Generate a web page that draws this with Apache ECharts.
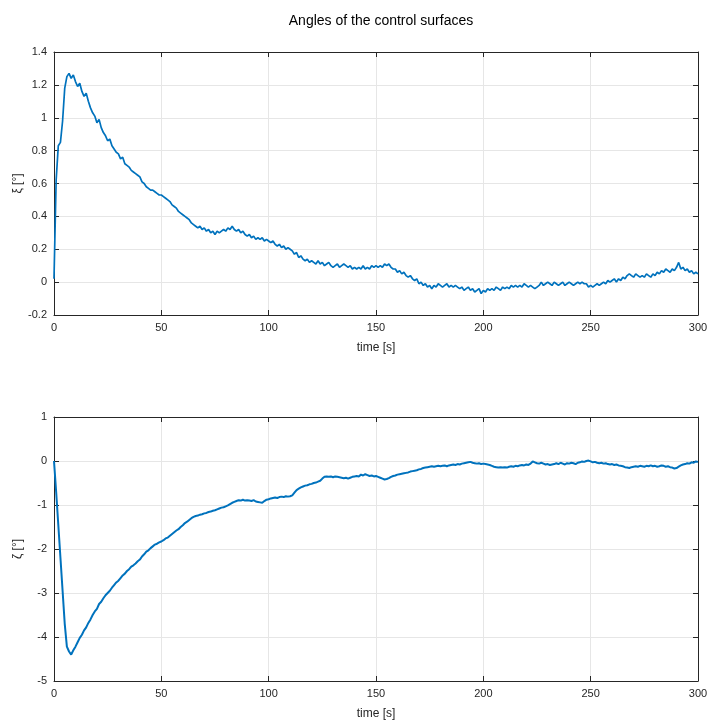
<!DOCTYPE html>
<html>
<head>
<meta charset="utf-8">
<script src="https://cdn.jsdelivr.net/npm/echarts@6/dist/echarts.min.js"></script>
<style>
html,body{margin:0;padding:0;background:#fff;}
#chart{width:708px;height:720px;}
</style>
</head>
<body>
<div id="chart"></div>
<script>
// ---- DATA ----
const chartTitle = "Angles of the control surfaces";
const xLabel = "time [s]";
const xiLabel = "ξ [°]";
const zetaLabel = "ζ [°]";
const sampleStep = 1; // seconds between samples

// aileron angle ξ [°], one sample per second, t = 0..300 s
const xiValues = [
0.02,0.62,0.83,0.85,0.98,1.18,1.25,1.27,1.24,1.26,
1.22,1.19,1.21,1.16,1.13,1.15,1.10,1.06,1.03,1.01,
0.97,0.99,0.94,0.91,0.89,0.86,0.87,0.83,0.81,0.79,
0.78,0.75,0.76,0.72,0.71,0.70,0.68,0.67,0.66,0.65,
0.64,0.61,0.60,0.58,0.57,0.56,0.56,0.55,0.54,0.53,
0.53,0.52,0.51,0.50,0.49,0.47,0.46,0.45,0.43,0.42,
0.41,0.40,0.39,0.38,0.36,0.35,0.34,0.33,0.34,0.32,
0.33,0.31,0.32,0.30,0.31,0.29,0.31,0.30,0.31,0.32,
0.31,0.33,0.32,0.34,0.32,0.31,0.32,0.30,0.31,0.29,
0.28,0.29,0.27,0.28,0.26,0.27,0.26,0.27,0.25,0.26,
0.25,0.24,0.25,0.23,0.22,0.23,0.21,0.22,0.20,0.21,
0.20,0.19,0.17,0.18,0.15,0.16,0.14,0.13,0.14,0.12,
0.13,0.12,0.11,0.13,0.11,0.12,0.10,0.11,0.12,0.10,
0.09,0.10,0.11,0.09,0.10,0.11,0.10,0.09,0.10,0.08,
0.09,0.08,0.09,0.08,0.10,0.08,0.09,0.08,0.10,0.09,
0.10,0.09,0.10,0.09,0.11,0.10,0.11,0.09,0.08,0.08,
0.06,0.07,0.05,0.06,0.04,0.03,0.04,0.02,0.01,0.02,
-0.01,0.00,-0.02,-0.01,-0.03,-0.02,-0.04,-0.02,-0.03,-0.01,
-0.02,-0.03,-0.02,-0.01,-0.03,-0.02,-0.03,-0.02,-0.03,-0.04,
-0.03,-0.05,-0.04,-0.03,-0.05,-0.04,-0.06,-0.05,-0.04,-0.07,
-0.05,-0.06,-0.04,-0.05,-0.04,-0.05,-0.03,-0.04,-0.05,-0.03,
-0.04,-0.03,-0.04,-0.02,-0.03,-0.02,-0.03,-0.02,-0.03,-0.01,
-0.02,-0.03,-0.02,-0.03,-0.04,-0.03,-0.02,0.00,-0.02,-0.01,
0.00,-0.01,-0.02,0.00,-0.01,-0.02,-0.01,0.00,-0.02,-0.01,
0.00,-0.01,-0.02,-0.01,0.00,-0.01,0.00,-0.01,-0.01,-0.03,
-0.02,-0.03,-0.02,-0.01,-0.02,-0.01,0.00,-0.01,0.01,0.00,
0.01,0.02,0.00,0.02,0.01,0.03,0.02,0.04,0.05,0.04,
0.03,0.05,0.04,0.03,0.04,0.03,0.05,0.04,0.03,0.05,
0.04,0.06,0.05,0.07,0.06,0.08,0.07,0.06,0.08,0.07,
0.09,0.12,0.08,0.09,0.07,0.08,0.06,0.07,0.05,0.06,
0.05
];

// rudder angle ζ [°], one sample per second, t = 0..300 s
const zetaValues = [
0.00,-0.70,-1.45,-2.20,-2.95,-3.70,-4.22,-4.33,-4.40,-4.30,
-4.22,-4.12,-4.02,-3.95,-3.85,-3.78,-3.68,-3.60,-3.50,-3.42,
-3.36,-3.25,-3.20,-3.12,-3.05,-3.00,-2.95,-2.88,-2.82,-2.76,
-2.72,-2.66,-2.60,-2.56,-2.50,-2.46,-2.40,-2.37,-2.33,-2.28,
-2.24,-2.17,-2.12,-2.06,-2.03,-1.98,-1.94,-1.90,-1.88,-1.85,
-1.83,-1.80,-1.76,-1.74,-1.70,-1.66,-1.62,-1.58,-1.55,-1.50,
-1.46,-1.41,-1.38,-1.34,-1.30,-1.27,-1.25,-1.24,-1.22,-1.21,
-1.19,-1.18,-1.16,-1.15,-1.13,-1.12,-1.10,-1.08,-1.06,-1.05,
-1.03,-1.01,-0.98,-0.95,-0.93,-0.91,-0.89,-0.90,-0.88,-0.90,
-0.89,-0.90,-0.91,-0.89,-0.92,-0.93,-0.94,-0.95,-0.91,-0.88,
-0.87,-0.85,-0.84,-0.83,-0.84,-0.82,-0.81,-0.82,-0.80,-0.81,
-0.80,-0.78,-0.72,-0.66,-0.63,-0.60,-0.58,-0.56,-0.55,-0.53,
-0.52,-0.50,-0.49,-0.47,-0.45,-0.40,-0.36,-0.35,-0.36,-0.35,
-0.37,-0.35,-0.36,-0.37,-0.38,-0.39,-0.38,-0.40,-0.38,-0.36,
-0.35,-0.34,-0.35,-0.31,-0.33,-0.30,-0.32,-0.34,-0.33,-0.35,
-0.34,-0.36,-0.38,-0.40,-0.42,-0.41,-0.39,-0.36,-0.34,-0.33,
-0.31,-0.30,-0.29,-0.28,-0.27,-0.26,-0.24,-0.23,-0.22,-0.21,
-0.19,-0.18,-0.16,-0.15,-0.14,-0.13,-0.12,-0.13,-0.12,-0.11,
-0.12,-0.11,-0.10,-0.12,-0.10,-0.09,-0.08,-0.09,-0.07,-0.08,
-0.06,-0.05,-0.04,-0.03,-0.02,-0.04,-0.05,-0.06,-0.05,-0.07,
-0.06,-0.07,-0.08,-0.09,-0.11,-0.13,-0.14,-0.15,-0.14,-0.15,
-0.14,-0.15,-0.13,-0.12,-0.13,-0.11,-0.12,-0.10,-0.09,-0.10,
-0.08,-0.09,-0.06,-0.01,-0.03,-0.05,-0.06,-0.04,-0.06,-0.08,
-0.07,-0.09,-0.08,-0.07,-0.05,-0.07,-0.04,-0.06,-0.08,-0.05,
-0.06,-0.04,-0.05,-0.07,-0.04,-0.03,-0.01,-0.02,0.00,0.01,
-0.01,-0.03,-0.02,-0.04,-0.05,-0.04,-0.06,-0.05,-0.07,-0.08,
-0.07,-0.09,-0.08,-0.10,-0.11,-0.12,-0.14,-0.15,-0.16,-0.14,
-0.13,-0.12,-0.13,-0.11,-0.12,-0.13,-0.11,-0.12,-0.10,-0.12,
-0.11,-0.13,-0.12,-0.10,-0.11,-0.13,-0.12,-0.14,-0.15,-0.17,
-0.16,-0.13,-0.10,-0.08,-0.07,-0.05,-0.06,-0.03,-0.04,-0.01,
-0.02
];

const xTicks = {min: 0, max: 300, interval: 50};
const xiTicks = {min: -0.2, max: 1.4, interval: 0.2};
const zetaTicks = {min: -5, max: 1, interval: 1};

// ---- CHART ----
const FONT = '"Liberation Sans", Arial, Helvetica, sans-serif';
const AX = '#262626';
const GRIDC = '#e6e6e6';
const LINEC = '#0072BD';

function pairs(vals){ return vals.map((v,i)=>[i*sampleStep, v]); }
function fmt(v){ return String(Math.round(v*10)/10); }

function xAx(gridIndex, pos, ticks, showLabel){
  return {
    type:'value', gridIndex, position:pos, min:ticks.min, max:ticks.max, interval:ticks.interval,
    name: showLabel ? xLabel : '', nameLocation:'middle', nameGap:27, nameMoveOverlap:false,
    nameTextStyle:{color:AX, fontFamily:FONT, fontSize:12},
    axisLine:{show:true, onZero:false, lineStyle:{color:AX, width:1}},
    axisTick:{show:true, inside:true, length:5, lineStyle:{color:AX}},
    axisLabel:{show:showLabel, color:AX, fontFamily:FONT, fontSize:11, margin:7, formatter:fmt},
    splitLine:{show:showLabel, lineStyle:{color:GRIDC, width:1}}
  };
}
function yAx(gridIndex, pos, ticks, showLabel, name){
  return {
    type:'value', gridIndex, position:pos, min:ticks.min, max:ticks.max, interval:ticks.interval,
    name: showLabel ? name : '', nameLocation:'middle', nameGap:30, nameRotate:90, nameMoveOverlap:false,
    nameTextStyle:{color:AX, fontFamily:FONT, fontSize:12},
    axisLine:{show:true, onZero:false, lineStyle:{color:AX, width:1}},
    axisTick:{show:true, inside:true, length:5, lineStyle:{color:AX}},
    axisLabel:{show:showLabel, color:AX, fontFamily:FONT, fontSize:11, margin:7, formatter:fmt},
    splitLine:{show:showLabel, lineStyle:{color:GRIDC, width:1}}
  };
}

const chart = echarts.init(document.getElementById('chart'), null, {renderer:'canvas'});
chart.setOption({
  animation:false,
  backgroundColor:'#fff',
  title:{text:chartTitle, left:376, top:9, textAlign:'center',
    textStyle:{fontFamily:FONT, fontSize:14, fontWeight:'normal', color:'#000'}},
  grid:[
    {left:54, top:52, width:644, height:263, containLabel:false, outerBoundsMode:'none'},
    {left:54, top:417, width:644, height:264, containLabel:false, outerBoundsMode:'none'}
  ],
  xAxis:[
    xAx(0,'bottom',xTicks,true),
    xAx(0,'top',xTicks,false),
    xAx(1,'bottom',xTicks,true),
    xAx(1,'top',xTicks,false)
  ],
  yAxis:[
    yAx(0,'left',xiTicks,true,xiLabel),
    yAx(0,'right',xiTicks,false,''),
    yAx(1,'left',zetaTicks,true,zetaLabel),
    yAx(1,'right',zetaTicks,false,'')
  ],
  series:[
    {type:'line', xAxisIndex:0, yAxisIndex:0, data:pairs(xiValues), showSymbol:false,
      lineStyle:{color:LINEC, width:1.7}, itemStyle:{color:LINEC}},
    {type:'line', xAxisIndex:2, yAxisIndex:2, data:pairs(zetaValues), showSymbol:false,
      lineStyle:{color:LINEC, width:2}, itemStyle:{color:LINEC}}
  ]
});
</script>
</body>
</html>
